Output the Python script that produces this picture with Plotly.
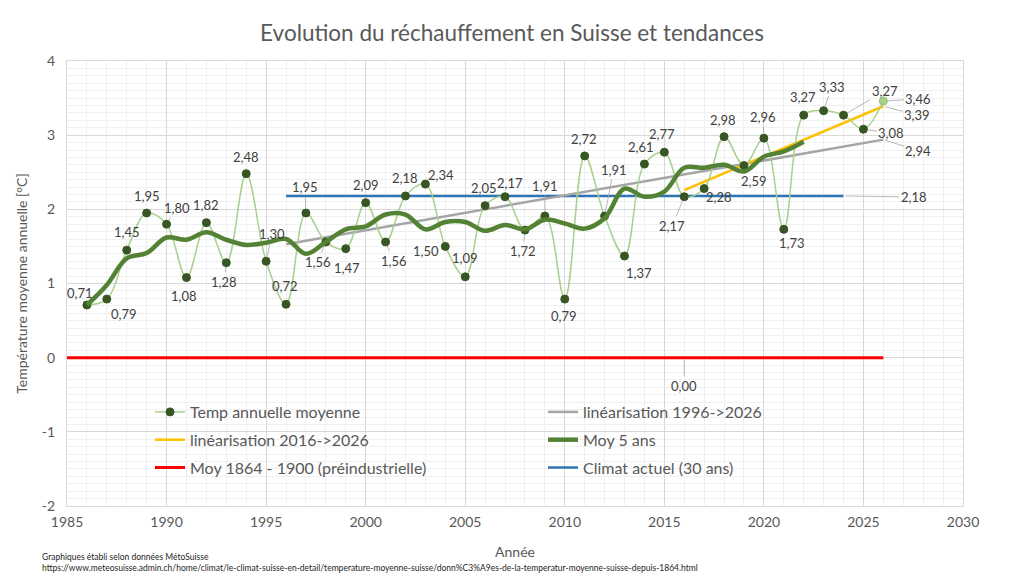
import plotly.graph_objects as go

# ---------------- data ----------------
years = list(range(1986, 2027))
temp = [0.71, 0.79, 1.45, 1.95, 1.80, 1.08, 1.82, 1.28, 2.48, 1.30,
        0.72, 1.95, 1.56, 1.47, 2.09, 1.56, 2.18, 2.34, 1.50, 1.09,
        2.05, 2.17, 1.72, 1.91, 0.79, 2.72, 1.91, 1.37, 2.61, 2.77,
        2.17, 2.28, 2.98, 2.59, 2.96, 1.73, 3.27, 3.33, 3.27, 3.08,
        3.46]

ma_years = list(range(1986, 2023))
ma5 = [0.71, 0.98, 1.34, 1.41, 1.62, 1.59, 1.69, 1.59, 1.52, 1.55,
       1.60, 1.40, 1.56, 1.73, 1.77, 1.93, 1.93, 1.73, 1.83, 1.83,
       1.71, 1.79, 1.73, 1.86, 1.81, 1.74, 1.88, 2.28, 2.17, 2.24,
       2.56, 2.56, 2.60, 2.51, 2.71, 2.78, 2.91]

lin96_x = [1996, 2026]
lin96_y = [1.53, 2.94]
lin16_x = [2016, 2026]
lin16_y = [2.26, 3.39]
preind_x = [1985, 2026]
preind_y = [0.00, 0.00]
climat_x = [1996, 2024]
climat_y = [2.18, 2.18]

x_ticks = [1985, 1990, 1995, 2000, 2005, 2010, 2015, 2020, 2025, 2030]
y_ticks = [-2, -1, 0, 1, 2, 3, 4]

# label offsets (pixels) for each yearly value, and whether a leader line shows
temp_offsets = [(-7, -12, 0), (17, 15, 0), (0, -18, 0), (0, -17, 0), (10, -16, 1),
                (-2, 18, 0), (0, -18, 0), (-2, 19, 1), (0, -17, 0), (6, -27, 1),
                (-1, -18, 0), (-1, -26, 1), (-8, 20, 1), (1, 19, 0), (0, -18, 0),
                (8, 19, 1), (0, -18, 0), (16, -9, 0), (-19, 5, 0), (0, -19, 0),
                (-1, -18, 0), (5, -14, 0), (-2, 21, 1), (0, -30, 1), (-1, 17, 0),
                (-1, -17, 0), (9, -46, 1), (14, 17, 0), (-3, -17, 0), (-2, -18, 0),
                (-12, 29, 1), (15, 8, 0), (-1, -17, 0), (10, 15, 0), (-1, -21, 1),
                (8, 14, 0), (-1, -18, 0), (8, -24, 1), (41, -24, 1), (28, 4, 1),
                (35, -2, 1)]

FONT = "Lato"
TXT = "#595959"
LBL = "#404040"
LEAD = "#a6a6a6"


def fmt(v):
    return f"{v:.2f}".replace(".", ",")


fig = go.Figure()

fig.add_trace(go.Scatter(x=preind_x, y=preind_y, mode="lines",
                         name="Moy 1864 - 1900 (préindustrielle)",
                         line=dict(color="#ff0000", width=3),
                         legend="legend", legendrank=3, legendgroup="g5"))
fig.add_trace(go.Scatter(x=climat_x, y=climat_y, mode="lines",
                         name="Climat actuel (30 ans)",
                         line=dict(color="#2e75b6", width=2.5),
                         legend="legend2", legendrank=3, legendgroup="g6"))
fig.add_trace(go.Scatter(x=lin96_x, y=lin96_y, mode="lines",
                         name="linéarisation 1996->2026",
                         line=dict(color="#a5a5a5", width=2.5),
                         legend="legend2", legendrank=1, legendgroup="g2"))
fig.add_trace(go.Scatter(x=lin16_x, y=lin16_y, mode="lines",
                         name="linéarisation 2016->2026",
                         line=dict(color="#ffc000", width=2.5),
                         legend="legend", legendrank=2, legendgroup="g3"))

marker_fill = ["#375623"] * (len(years) - 1) + ["#a9d18e"]
marker_line = ["#375623"] * (len(years) - 1) + ["#8fbf6f"]
fig.add_trace(go.Scatter(x=years, y=temp, mode="lines+markers",
                         name="Temp annuelle moyenne",
                         line=dict(color="#a9d18e", width=1.5, shape="spline", smoothing=1.0),
                         marker=dict(size=8, color=marker_fill,
                                     line=dict(color=marker_line, width=1)),
                         legend="legend", legendrank=1, legendgroup="g1"))
fig.add_trace(go.Scatter(x=ma_years, y=ma5, mode="lines",
                         name="Moy 5 ans",
                         line=dict(color="#548235", width=4.5, shape="spline", smoothing=1.0),
                         legend="legend2", legendrank=2, legendgroup="g4"))

annotations = []
for yr, v, (dx, dy, lead) in zip(years, temp, temp_offsets):
    annotations.append(dict(x=yr, y=v, text=fmt(v), showarrow=True, ax=dx, ay=dy,
                            arrowhead=0, arrowwidth=0.8, standoff=4,
                            arrowcolor=LEAD if lead else "rgba(0,0,0,0)",
                            font=dict(family=FONT, size=13, color=LBL)))
# trend end labels
extra = [(lin96_x[-1], lin96_y[-1], 35, 11),
         (lin16_x[-1], lin16_y[-1], 34, 9),
         (climat_x[-1], climat_y[-1], 70, 1),
         (2016, preind_y[-1], 0, 28)]
for xx, yy, dx, dy in extra:
    annotations.append(dict(x=xx, y=yy, text=fmt(yy), showarrow=True, ax=dx, ay=dy,
                            arrowhead=0, arrowwidth=0.8, standoff=2, arrowcolor=LEAD,
                            font=dict(family=FONT, size=13, color=LBL)))

annotations.append(dict(xref="paper", yref="paper", x=(40 - 67) / 896, y=(506 - 557) / 445,
                        xanchor="left", yanchor="middle", showarrow=False,
                        text="Graphiques établi selon données MétoSuisse",
                        font=dict(family=FONT, size=8.5, color="#262626")))
annotations.append(dict(xref="paper", yref="paper", x=(40 - 67) / 896, y=(506 - 568) / 445,
                        xanchor="left", yanchor="middle", showarrow=False,
                        text="https://www.meteosuisse.admin.ch/home/climat/le-climat-suisse-en-detail/temperature-moyenne-suisse/donn%C3%A9es-de-la-temperatur-moyenne-suisse-depuis-1864.html",
                        font=dict(family=FONT, size=8.5, color="#262626")))

fig.update_layout(
    width=1024, height=576,
    margin=dict(l=67, r=61, t=61, b=70),
    paper_bgcolor="white", plot_bgcolor="white",
    font=dict(family=FONT, color=TXT),
    title=dict(text="Evolution du réchauffement en Suisse et tendances",
               x=0.5, xref="container", xanchor="center",
               y=1 - 33 / 576, yref="container", yanchor="middle",
               font=dict(family=FONT, size=22.5, color=TXT)),
    legend=dict(x=(150 - 67) / 896, y=(506 - 395) / 445, xanchor="left", yanchor="top",
                bgcolor="rgba(0,0,0,0)", tracegroupgap=4,
                font=dict(family=FONT, size=16, color=TXT)),
    legend2=dict(x=(543 - 67) / 896, y=(506 - 395) / 445, xanchor="left", yanchor="top",
                 bgcolor="rgba(0,0,0,0)", tracegroupgap=4,
                 font=dict(family=FONT, size=16, color=TXT)),
    annotations=annotations,
    xaxis=dict(range=[1985, 2030], tickvals=x_ticks, ticktext=[str(t) for t in x_ticks],
               showgrid=True, gridcolor="#d9d9d9", gridwidth=1,
               minor=dict(dtick=1, tick0=1985, showgrid=True, gridcolor="#f0f0f0", gridwidth=1),
               showline=True, linecolor="#d9d9d9", mirror=True, zeroline=False,
               ticks="", ticklabelstandoff=3, tickfont=dict(family=FONT, size=14, color=TXT),
               title=dict(text="Année", standoff=18, font=dict(family=FONT, size=14, color=TXT))),
    yaxis=dict(range=[-2, 4], tickvals=y_ticks, ticktext=[str(t) for t in y_ticks],
               showgrid=True, gridcolor="#d9d9d9", gridwidth=1,
               minor=dict(dtick=0.1, tick0=0, showgrid=True, gridcolor="#f0f0f0", gridwidth=1),
               showline=True, linecolor="#d9d9d9", mirror=True, zeroline=False,
               ticks="", ticklabelstandoff=8, tickfont=dict(family=FONT, size=14, color=TXT),
               title=dict(text="Température moyenne annuelle [°C]", standoff=10,
                          font=dict(family=FONT, size=14, color=TXT))),
)

fig.write_html("out.html")
